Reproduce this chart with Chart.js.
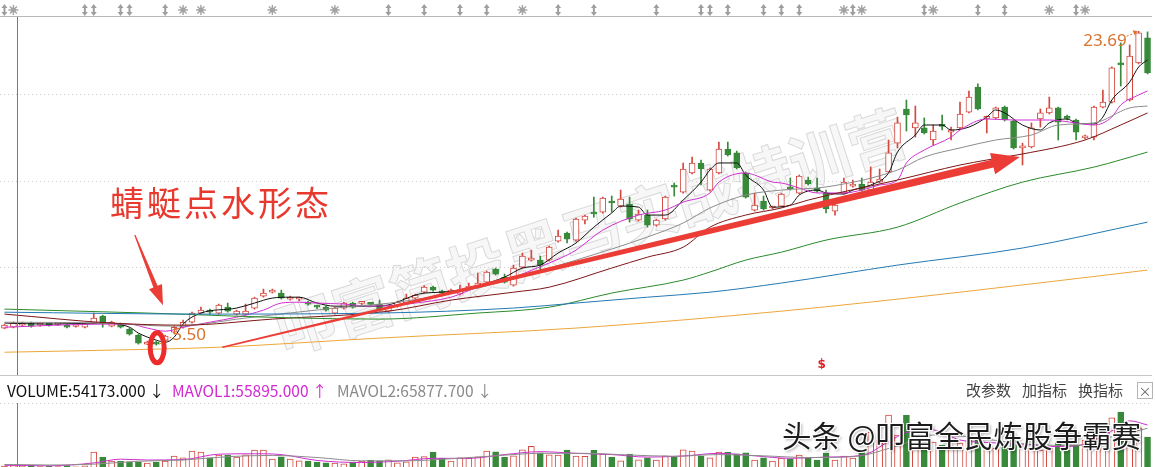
<!DOCTYPE html>
<html lang="zh-CN">
<head>
<meta charset="UTF-8">
<title>日K线 - 蜻蜓点水形态</title>
<script src="https://cdn.jsdelivr.net/npm/chart.js@4.4.8/dist/chart.umd.min.js"></script>
<style>
    html, body { margin: 0; padding: 0; background: #fff; }
    body {
        position: relative; width: 1155px; height: 467px; overflow: hidden;
        font-family: "Noto Sans CJK SC", "Noto Sans", sans-serif;
    }
    #priceBox { position: absolute; left: 0; top: 0; width: 1152px; height: 375px; z-index: 1; }
    #volBox { position: absolute; left: 0; top: 375px; width: 1152px; height: 95px; z-index: 1; }
    #wm {
        position: absolute; left: 590px; top: 228px; z-index: 0;
        transform: translate(-50%, -50%) rotate(-18deg);
        font-size: 60px; font-weight: bold; white-space: nowrap;
        color: rgba(240, 240, 240, 0.5);
        -webkit-text-stroke: 1px rgba(150, 150, 150, 0.32);
    }
    #note {
        position: absolute; left: 110px; top: 185px; z-index: 3;
        font-size: 34px; line-height: 1; letter-spacing: 3px; color: #e8392f; white-space: nowrap;
    }
    .vh { position: absolute; top: 381px; font-size: 15.5px; line-height: 18px; white-space: nowrap; z-index: 2; }
    .btn { position: absolute; top: 381px; font-size: 15px; line-height: 18px; white-space: nowrap; z-index: 2; color: #444; }
    #xbtn {
        position: absolute; left: 1137px; top: 382px; width: 14px; height: 15px; z-index: 2;
        border: 1px solid #b4b4b4; color: #666; font-size: 13px; line-height: 15px; text-align: center;
    }
    #wm2 {
        position: absolute; left: 782px; top: 420px; z-index: 3;
        font-size: 29.5px; line-height: 1; white-space: nowrap; color: #1c1c1c;
        text-shadow: 1px 1px 0 #fff, -1px -1px 0 #fff, 1px -1px 0 #fff, -1px 1px 0 #fff, 2px 2px 3px rgba(0,0,0,0.35);
    }
</style>
</head>
<body>

<div id="wm">叩富简投黑马实战特训营</div>
<div id="priceBox"><canvas id="priceChart"></canvas></div>
<div id="volBox"><canvas id="volChart"></canvas></div>
<div id="note">蜻蜓点水形态</div>

<div class="vh" style="left:7px;color:#111">VOLUME:54173.000 ↓</div>
<div class="vh" style="left:172px;color:#d22ad2">MAVOL1:55895.000 ↑</div>
<div class="vh" style="left:337px;color:#8a8a8a">MAVOL2:65877.700 ↓</div>
<div class="btn" style="left:966px">改参数</div>
<div class="btn" style="left:1022px">加指标</div>
<div class="btn" style="left:1078px">换指标</div>
<div id="xbtn">×</div>
<div id="wm2">头条 @叩富全民炼股争霸赛</div>

<script>

    // daily candles (oldest first)
    const opens = [
        6.49,6.54,6.66,6.78,6.66,6.68,6.70,6.66,6.58,6.54,
        6.78,7.18,6.60,6.72,6.43,6.08,5.56,5.67,5.73,6.25,
        6.54,6.83,7.36,7.47,7.36,7.70,7.30,7.30,7.65,8.34,
        8.57,8.52,8.17,8.17,7.99,7.72,7.70,7.36,7.65,7.94,
        7.92,7.88,7.88,7.47,7.76,7.94,8.23,8.57,8.86,8.63,
        8.57,8.46,8.81,8.86,9.15,9.91,9.44,8.98,10.02,10.43,
        10.43,10.43,11.53,11.99,11.59,12.75,13.21,13.21,13.79,13.56,
        13.68,12.75,13.04,12.46,12.81,14.72,14.37,15.48,16.06,14.49,
        15.48,16.87,16.64,15.48,13.33,13.85,13.45,13.56,14.60,14.31,
        15.07,14.60,14.31,13.27,14.31,14.72,14.84,14.49,14.95,15.54,
        17.21,19.19,18.09,18.09,17.39,18.20,17.85,18.09,19.01,20.46,
        18.64,18.67,19.30,18.49,16.93,16.99,18.61,18.96,19.25,18.67,
        18.55,17.51,17.56,19.30,19.59,21.86,19.71,21.86,23.31
    ]
    const highs = [
        6.70,6.84,6.84,6.84,6.75,6.72,6.78,6.70,6.66,6.76,
        7.36,7.24,6.89,6.78,6.49,6.14,5.73,5.73,6.08,6.60,
        6.95,7.41,7.70,7.59,7.88,7.94,7.53,7.88,8.28,8.75,
        8.75,8.69,8.34,8.28,8.05,7.82,7.76,7.70,7.99,7.99,
        8.02,7.97,8.11,7.76,8.05,8.46,8.46,8.95,8.92,8.69,
        8.75,8.98,9.10,9.68,9.79,9.97,9.62,10.14,10.84,11.01,
        10.66,11.24,12.17,12.05,12.87,13.04,14.08,14.08,14.14,14.49,
        14.08,13.33,13.33,12.81,14.14,14.90,16.06,16.40,16.23,15.77,
        17.27,17.27,16.75,15.54,14.31,14.14,13.56,14.31,15.19,15.36,
        15.24,15.19,14.49,13.68,15.19,15.07,15.19,15.83,15.71,17.39,
        18.72,19.71,19.36,18.67,18.26,18.84,18.14,19.59,20.23,20.64,
        18.78,19.30,19.36,18.55,17.21,18.38,19.19,19.88,19.30,18.84,
        18.61,17.68,19.36,20.29,21.63,23.02,22.90,23.69,23.66
    ]
    const lows = [
        6.45,6.50,6.60,6.54,6.60,6.60,6.64,6.50,6.54,6.50,
        6.74,6.54,6.56,6.49,6.08,5.56,5.52,5.50,5.67,6.20,
        6.49,6.78,7.30,7.30,7.30,7.41,7.24,7.24,7.59,8.28,
        8.52,8.17,8.11,8.08,7.82,7.62,7.47,7.30,7.59,7.65,
        7.85,7.80,7.47,7.41,7.70,7.88,8.17,8.52,8.63,8.46,
        8.52,8.40,8.75,8.81,9.10,9.56,9.10,8.92,9.97,10.37,
        9.85,10.37,11.47,11.42,11.53,12.52,12.92,13.15,13.21,13.50,
        12.63,12.69,12.34,12.40,12.75,14.14,14.31,15.42,14.78,14.43,
        15.42,16.46,15.71,14.02,13.27,13.33,13.39,13.50,14.49,14.26,
        14.78,14.37,13.16,13.04,14.26,14.66,14.43,14.43,14.90,15.48,
        16.93,17.91,17.56,17.74,17.10,17.97,17.39,18.03,18.96,19.13,
        17.80,18.61,18.49,16.87,15.94,16.93,18.14,18.90,17.39,18.55,
        17.39,17.45,17.39,19.25,19.53,20.52,19.65,21.80,21.22
    ]
    const closes = [
        6.66,6.78,6.78,6.60,6.68,6.66,6.72,6.54,6.60,6.72,
        7.07,6.78,6.83,6.54,6.14,5.62,5.67,5.56,6.02,6.54,
        6.83,7.36,7.53,7.41,7.82,7.47,7.47,7.47,8.23,8.52,
        8.63,8.23,8.28,8.19,7.88,7.70,7.53,7.65,7.94,7.70,
        7.94,7.86,7.53,7.70,7.99,8.23,8.40,8.86,8.69,8.52,
        8.69,8.69,8.86,9.10,9.73,9.62,9.15,9.97,10.66,10.55,
        10.14,11.18,11.82,11.65,12.81,12.98,13.10,14.02,13.74,13.97,
        12.81,13.10,12.46,12.75,14.08,14.66,15.71,16.06,15.71,15.71,
        16.87,16.52,15.77,14.08,13.62,13.39,13.50,14.26,14.55,15.30,
        14.84,14.43,13.39,13.62,14.95,14.84,14.49,14.95,15.13,16.64,
        18.38,18.84,18.38,17.80,17.91,18.18,17.97,18.90,19.88,19.19,
        18.67,19.25,18.55,16.93,16.99,18.09,18.96,19.25,18.43,18.64,
        17.85,17.56,19.30,19.59,21.57,21.74,22.26,23.60,21.28
    ]
    const volumes = [
        48000,54173,50000,60000,42000,47000,40000,52000,38000,50000,
        216000,156000,108000,105000,98000,96000,84000,95000,108000,168000,
        145000,228000,215000,146000,180000,178000,155000,182000,240000,238000,
        132000,158000,130000,110000,106000,96000,86000,84000,75000,95000,
        108000,118000,110000,122000,86000,98000,155000,160000,214000,142000,
        108000,145000,140000,158000,226000,218000,152000,170000,242000,285000,
        205000,182000,178000,238000,168000,165000,236000,192000,155000,110000,
        190000,122000,145000,118000,170000,156000,242000,228000,168000,146000,
        215000,212000,195000,206000,120000,146000,108000,142000,132000,180000,
        145000,120000,204000,118000,168000,142000,240000,456000,360000,660000,
        420000,655000,480000,420000,336000,300000,288000,324000,360000,396000,
        264000,262000,312000,384000,290000,266000,240000,265000,325000,238000,
        300000,360000,565000,540000,625000,695000,540000,505000,396000
    ]

    // moving average lines, read at sample candles
    const ma5Idx = [0,5,11,14,15,17,18,19,20,22,26,28,30,32,33,35,37,41,42,47,49,52,56,58,60,62,64,66,68,69,71,72,74,76,78,79,80,82,83,85,86,88,89,91,92,94,95,97,99,100,102,103,105,106,108,110,111,112,114,116,117,119,120,122,123,124,126,127,128]
    const ma5 = [6.78,6.72,6.78,6.54,6.20,5.79,5.67,5.96,6.72,7.36,7.65,7.94,8.23,8.28,8.28,7.94,7.76,7.76,7.76,8.52,8.57,8.81,9.44,9.97,10.14,10.84,11.42,12.34,13.16,13.56,13.50,13.04,13.04,13.91,14.95,15.65,16.06,16.06,15.36,14.49,13.50,13.62,14.20,14.49,14.32,14.26,14.49,14.78,15.48,16.69,17.68,18.26,18.26,17.97,18.14,18.72,19.13,18.96,18.26,17.97,18.38,18.61,18.38,18.32,18.72,19.71,20.75,21.62,22.03]
    const ma10Idx = [0,11,14,16,18,20,23,26,29,31,33,35,38,41,44,46,50,53,57,61,63,64,67,71,74,76,79,80,83,84,86,87,89,91,94,96,98,100,101,103,106,107,110,113,117,120,122,124,125,127,128]
    const ma10 = [6.54,6.72,6.72,6.49,6.31,6.54,6.83,7.12,7.53,7.94,7.99,7.94,7.88,7.76,7.82,7.94,8.28,8.86,9.44,10.26,10.72,11.01,12.17,13.04,13.33,13.79,14.32,14.95,15.48,15.36,14.95,14.90,14.61,14.32,14.32,14.49,14.78,15.07,16.06,16.81,17.56,17.97,18.61,18.55,18.55,18.38,18.26,18.72,19.42,20.00,20.23]
    const ma20Idx = [0,11,19,27,37,44,53,64,72,76,79,83,87,92,100,103,107,111,115,118,122,126,128]
    const ma20 = [6.83,6.78,6.60,7.07,7.65,7.99,8.81,10.43,11.77,12.58,13.45,14.20,14.49,14.67,15.65,16.40,16.93,17.39,17.68,18.26,18.38,19.25,19.36]
    const ma30Idx = [0,12,20,30,43,50,57,61,68,72,76,79,83,87,90,100,107,110,114,121,125,128]
    const ma30 = [7.30,6.78,6.66,7.01,7.47,8.11,8.57,8.86,9.97,10.60,11.18,12.34,13.04,13.45,13.91,15.07,15.94,16.23,16.58,17.39,18.26,18.96]
    const ma60Idx = [0,16,33,42,53,61,68,76,79,83,87,92,100,107,114,122,128]
    const ma60 = [7.59,7.36,7.07,7.01,7.36,7.70,8.52,9.27,9.74,10.43,10.89,11.59,12.34,13.74,14.95,15.82,16.69]
    const ma120Idx = [0,22,42,57,64,72,79,87,100,114,128]
    const ma120 = [7.41,7.30,7.36,7.65,7.94,8.28,8.57,9.10,10.14,11.13,12.63]
    const ma250Idx = [0,17,24,42,64,87,107,128]
    const ma250 = [5.09,5.27,5.38,5.91,6.49,7.47,8.57,9.85]

    // volume averages
    const mavol1Idx = [0,1,5,10,13,16,20,24,28,31,35,40,44,48,52,56,60,64,68,72,76,80,84,88,92,96,99,101,104,107,110,114,118,121,124,126,128]
    const mavol1 = [56000,55895,50000,85000,130000,120000,125000,190000,195000,185000,115000,90000,105000,140000,140000,185000,220000,200000,185000,155000,168000,200000,170000,140000,155000,175000,340000,450000,480000,360000,330000,310000,280000,310000,470000,590000,540000]
    const mavol2Idx = [0,1,5,10,15,20,25,30,35,40,45,50,55,60,65,70,75,80,85,90,95,100,104,108,112,116,120,124,128]
    const mavol2 = [66000,65878,60000,70000,105000,120000,160000,175000,150000,110000,110000,135000,170000,200000,200000,180000,165000,185000,170000,150000,160000,290000,420000,400000,340000,300000,295000,400000,500000]

    // price grid, event marks, annotations (candle index, price)
    const gridPrices = [10, 15, 20]
    const swapIdx = [0,9,10,13,14,18,43,47,51,54,62,66,73,78,79,81,85,87,89,95,103,109,112,120]
    const starIdx = [1,20,22,30,37,58,94,96,104,117,121]
    const dividendIdx = 91.5
    const cursorIdx = 1.4
    const trendArrow = [[24.4, 5.38], [113.7, 16.40]]
    const noteArrow = [[14.6, 11.88], [17.75, 7.82]]
    const lowCircle = [17.1, 5.35]

    const upColor = '#d4493f'
    const downColor = '#38893a'
    const labels = opens.map((_, i) => i)
    const isUp = labels.map(i => closes[i] >= opens[i])

    const maLine = (idx, vals, color) => ({
        type: 'line',
        data: idx.map((x, k) => ({ x: x, y: vals[k] })),
        borderColor: color,
        borderWidth: 1,
        pointRadius: 0,
        cubicInterpolationMode: 'monotone',
        order: 1
    })

    function taperArrow(ctx, p0, p1, w0, w1, headLen, headHalf, color) {
        const dx = p1[0] - p0[0], dy = p1[1] - p0[1]
        const len = Math.hypot(dx, dy)
        const ux = dx / len, uy = dy / len
        const nx = -uy, ny = ux
        const bx = p1[0] - ux * headLen, by = p1[1] - uy * headLen
        ctx.fillStyle = color
        ctx.beginPath()
        ctx.moveTo(p0[0] + nx * w0 / 2, p0[1] + ny * w0 / 2)
        ctx.lineTo(bx + nx * w1 / 2, by + ny * w1 / 2)
        ctx.lineTo(bx + nx * headHalf, by + ny * headHalf)
        ctx.lineTo(p1[0], p1[1])
        ctx.lineTo(bx - nx * headHalf, by - ny * headHalf)
        ctx.lineTo(bx - nx * w1 / 2, by - ny * w1 / 2)
        ctx.lineTo(p0[0] - nx * w0 / 2, p0[1] - ny * w0 / 2)
        ctx.closePath()
        ctx.fill()
    }

    function drawSwap(ctx, x, y) {
        ctx.fillStyle = '#9e9e9e'
        ctx.beginPath(); ctx.moveTo(x, y - 6); ctx.lineTo(x - 3, y - 2); ctx.lineTo(x + 3, y - 2); ctx.closePath(); ctx.fill()
        ctx.beginPath(); ctx.moveTo(x, y + 6); ctx.lineTo(x - 3, y + 2); ctx.lineTo(x + 3, y + 2); ctx.closePath(); ctx.fill()
        ctx.fillRect(x - 1, y - 2, 2, 4)
    }

    function drawStar(ctx, x, y) {
        ctx.strokeStyle = '#a3a3a3'
        ctx.lineWidth = 1.4
        for (let k = 0; k < 4; k++) {
            const a = k * Math.PI / 4
            ctx.beginPath()
            ctx.moveTo(x - 5 * Math.cos(a), y - 5 * Math.sin(a))
            ctx.lineTo(x + 5 * Math.cos(a), y + 5 * Math.sin(a))
            ctx.stroke()
        }
        ctx.fillStyle = '#a3a3a3'
        ctx.beginPath(); ctx.arc(x, y, 2.5, 0, 2 * Math.PI); ctx.fill()
    }

    const priceDecor = {
        id: 'priceDecor',
        afterDatasetsDraw(chart) {
            const { ctx, chartArea: area, scales: { x, y } } = chart
            const pt = p => [x.getPixelForValue(p[0]), y.getPixelForValue(p[1])]
            ctx.save()

            // top strip with event marks
            ctx.strokeStyle = '#b8b8b8'
            ctx.lineWidth = 1
            ctx.beginPath(); ctx.moveTo(0, 16.5); ctx.lineTo(chart.width, 16.5); ctx.stroke()
            swapIdx.forEach(i => drawSwap(ctx, x.getPixelForValue(i), 10))
            starIdx.forEach(i => drawStar(ctx, x.getPixelForValue(i), 10))

            // cursor line
            const cx = Math.round(x.getPixelForValue(cursorIdx)) + 0.5
            ctx.strokeStyle = '#7a7a7a'
            ctx.lineWidth = 1
            ctx.beginPath(); ctx.moveTo(cx, 17); ctx.lineTo(cx, area.bottom); ctx.stroke()

            // highest / lowest price labels
            const hi = highs.indexOf(Math.max(...highs))
            const lo = lows.indexOf(Math.min(...lows))
            const [hx, hy] = pt([hi, highs[hi]])
            const [lx, ly] = pt([lo, lows[lo]])
            ctx.fillStyle = '#d9722f'
            ctx.strokeStyle = '#d9722f'
            ctx.font = '17px "Noto Sans", sans-serif'
            ctx.textBaseline = 'middle'
            ctx.textAlign = 'right'
            ctx.fillText(highs[hi].toFixed(2), hx - 12, hy + 10)
            ctx.lineWidth = 1
            ctx.setLineDash([2, 2])
            ctx.beginPath(); ctx.moveTo(hx - 12, hy + 5); ctx.lineTo(hx - 2, hy + 1); ctx.stroke()
            ctx.setLineDash([])
            ctx.beginPath(); ctx.moveTo(hx - 1, hy); ctx.lineTo(hx - 6, hy - 1); ctx.lineTo(hx - 4, hy + 4); ctx.closePath(); ctx.fill()
            ctx.textAlign = 'left'
            ctx.fillText(lows[lo].toFixed(2), lx + 16, ly - 10)
            ctx.setLineDash([2, 2])
            ctx.beginPath(); ctx.moveTo(lx + 3, ly - 1); ctx.lineTo(lx + 15, ly - 8); ctx.stroke()
            ctx.setLineDash([])

            // dividend mark
            ctx.fillStyle = '#e02424'
            ctx.font = 'bold 12px "DejaVu Sans", sans-serif'
            ctx.textAlign = 'center'
            ctx.fillText('$', x.getPixelForValue(dividendIdx), area.bottom - 10)

            // hand drawn annotations
            taperArrow(ctx, pt(trendArrow[0]), pt(trendArrow[1]), 1.5, 8, 28, 11, '#ec3c36')
            taperArrow(ctx, pt(noteArrow[0]), pt(noteArrow[1]), 1.2, 4.5, 20, 7, '#ec3c36')
            const [ex, ey] = pt(lowCircle)
            ctx.strokeStyle = '#ee2b2b'
            ctx.lineWidth = 5
            ctx.beginPath(); ctx.ellipse(ex, ey, 7, 15, 0, 0, 2 * Math.PI); ctx.stroke()

            ctx.restore()
        }
    }

    const volDecor = {
        id: 'volDecor',
        afterDatasetsDraw(chart) {
            const { ctx, chartArea: area, scales: { x } } = chart
            ctx.save()
            ctx.strokeStyle = '#c6c6c6'
            ctx.lineWidth = 1
            ctx.beginPath(); ctx.moveTo(0, 0.5); ctx.lineTo(chart.width, 0.5); ctx.stroke()
            const cx = Math.round(x.getPixelForValue(cursorIdx)) + 0.5
            ctx.strokeStyle = '#7a7a7a'
            ctx.beginPath(); ctx.moveTo(cx, area.top); ctx.lineTo(cx, area.bottom); ctx.stroke()
            ctx.restore()
        }
    }

    const priceChart = new Chart(document.getElementById('priceChart'), {
        type: 'bar',
        data: {
            labels: labels,
            datasets: [
                maLine(ma250Idx, ma250, '#eda63a'),
                maLine(ma120Idx, ma120, '#2379b5'),
                maLine(ma60Idx, ma60, '#2b8a2b'),
                maLine(ma30Idx, ma30, '#7d1616'),
                maLine(ma20Idx, ma20, '#8c8c8c'),
                maLine(ma10Idx, ma10, '#d02fd0'),
                maLine(ma5Idx, ma5, '#111111'),
                {
                    data: labels.map(i => [Math.min(opens[i], closes[i]), Math.max(opens[i], closes[i])]),
                    backgroundColor: labels.map(i => isUp[i] ? '#ffffff' : downColor),
                    borderColor: labels.map(i => isUp[i] ? upColor : downColor),
                    borderWidth: 1,
                    borderSkipped: false,
                    barThickness: 6,
                    minBarLength: 2,
                    grouped: false,
                    order: 2
                },
                {
                    data: labels.map(i => [lows[i], highs[i]]),
                    backgroundColor: labels.map(i => isUp[i] ? upColor : downColor),
                    barThickness: 1,
                    grouped: false,
                    order: 3
                }
            ]
        },
        options: {
            responsive: true,
            maintainAspectRatio: false,
            animation: false,
            events: [],
            layout: { padding: { top: 17, left: 0, right: 0, bottom: 0 } },
            plugins: { legend: { display: false }, tooltip: { enabled: false } },
            scales: {
                x: { type: 'category', offset: true, display: false },
                y: {
                    min: 3.77,
                    max: 24.52,
                    afterBuildTicks: axis => { axis.ticks = gridPrices.map(v => ({ value: v })) },
                    ticks: { display: false },
                    grid: { color: '#cfcfcf', drawTicks: false },
                    border: { display: false, dash: [1, 3] }
                }
            }
        },
        plugins: [priceDecor]
    })

    const volMax = 804000
    const volChart = new Chart(document.getElementById('volChart'), {
        type: 'bar',
        data: {
            labels: labels,
            datasets: [
                maLine(mavol2Idx, mavol2, '#8c8c8c'),
                maLine(mavol1Idx, mavol1, '#d02fd0'),
                {
                    data: volumes,
                    backgroundColor: labels.map(i => isUp[i] ? '#ffffff' : downColor),
                    borderColor: labels.map(i => isUp[i] ? upColor : downColor),
                    borderWidth: 1,
                    borderSkipped: false,
                    barThickness: 6,
                    order: 2
                }
            ]
        },
        options: {
            responsive: true,
            maintainAspectRatio: false,
            animation: false,
            events: [],
            layout: { padding: { top: 28, left: 0, right: 0, bottom: 0 } },
            plugins: { legend: { display: false }, tooltip: { enabled: false } },
            scales: {
                x: { type: 'category', offset: true, display: false },
                y: {
                    min: 0,
                    max: volMax,
                    afterBuildTicks: axis => { axis.ticks = [{ value: volMax }] },
                    ticks: { display: false },
                    grid: { color: '#cfcfcf', drawTicks: false },
                    border: { display: false, dash: [1, 3] }
                }
            }
        },
        plugins: [volDecor]
    })

</script>
</body>
</html>
